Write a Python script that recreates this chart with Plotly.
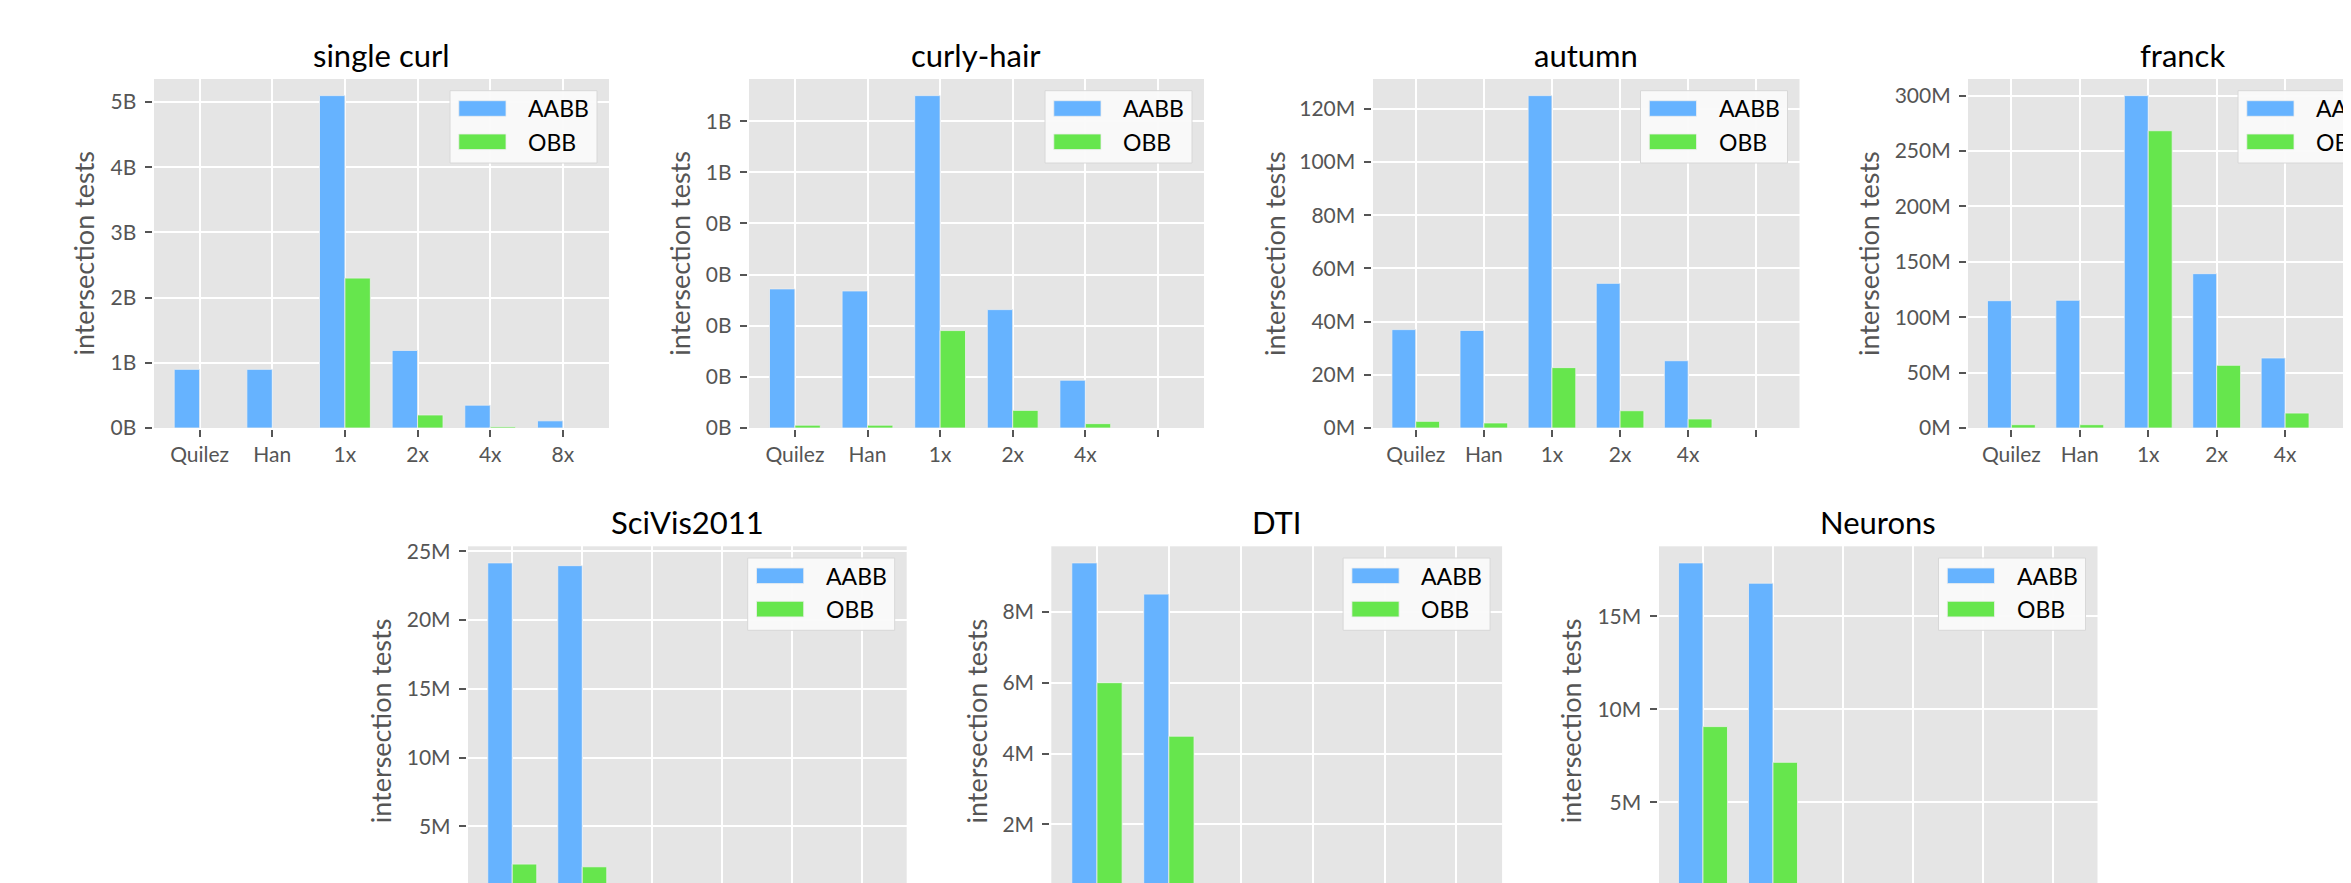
import plotly.graph_objects as go

W, H = 2351, 883

# ---------------- data ----------------
categories = ["Quilez", "Han", "1x", "2x", "4x", "8x"]
series_names = ["AABB", "OBB"]
titles = ["single curl", "curly-hair", "autumn", "franck", "SciVis2011", "DTI", "Neurons"]

single_curl_aabb = [0.90e9, 0.90e9, 5.10e9, 1.19e9, 0.35e9, 0.11e9]
single_curl_obb = [None, None, 2.30e9, 0.20e9, 0.02e9, None]

curly_hair_aabb = [0.544e9, 0.536e9, 1.30e9, 0.463e9, 0.187e9, None]
curly_hair_obb = [0.011e9, 0.011e9, 0.381e9, 0.069e9, 0.017e9, None]

autumn_aabb = [37.0e6, 36.7e6, 125.0e6, 54.4e6, 25.3e6, None]
autumn_obb = [2.5e6, 1.9e6, 22.7e6, 6.5e6, 3.4e6, None]

franck_aabb = [114.9e6, 115.3e6, 300.0e6, 139.3e6, 63.2e6, None]
franck_obb = [3.0e6, 3.0e6, 268.3e6, 56.6e6, 13.5e6, None]

scivis_aabb = [24.15e6, 23.95e6, None, None, None, None]
scivis_obb = [2.27e6, 2.07e6, None, None, None, None]

dti_aabb = [9.38e6, 8.50e6, None, None, None, None]
dti_obb = [6.00e6, 4.49e6, None, None, None, None]

neurons_aabb = [17.87e6, 16.78e6, None, None, None, None]
neurons_obb = [9.07e6, 7.15e6, None, None, None, None]

# tick labels
xlabels_six = ["Quilez", "Han", "1x", "2x", "4x", "8x"]
xlabels_five = ["Quilez", "Han", "1x", "2x", "4x", ""]

single_curl_yticks = [0, 1e9, 2e9, 3e9, 4e9, 5e9]
single_curl_ylabels = ["0B", "1B", "2B", "3B", "4B", "5B"]
curly_hair_yticks = [0, 0.2e9, 0.4e9, 0.6e9, 0.8e9, 1.0e9, 1.2e9]
curly_hair_ylabels = ["0B", "0B", "0B", "0B", "0B", "1B", "1B"]
autumn_yticks = [0, 20e6, 40e6, 60e6, 80e6, 100e6, 120e6]
autumn_ylabels = ["0M", "20M", "40M", "60M", "80M", "100M", "120M"]
franck_yticks = [0, 50e6, 100e6, 150e6, 200e6, 250e6, 300e6]
franck_ylabels = ["0M", "50M", "100M", "150M", "200M", "250M", "300M"]
scivis_yticks = [0, 5e6, 10e6, 15e6, 20e6, 25e6]
scivis_ylabels = ["0M", "5M", "10M", "15M", "20M", "25M"]
dti_yticks = [0, 2e6, 4e6, 6e6, 8e6]
dti_ylabels = ["0M", "2M", "4M", "6M", "8M"]
neurons_yticks = [0, 5e6, 10e6, 15e6]
neurons_ylabels = ["0M", "5M", "10M", "15M"]

panels_data = [
    (single_curl_aabb, single_curl_obb, xlabels_six, single_curl_yticks, single_curl_ylabels),
    (curly_hair_aabb, curly_hair_obb, xlabels_five, curly_hair_yticks, curly_hair_ylabels),
    (autumn_aabb, autumn_obb, xlabels_five, autumn_yticks, autumn_ylabels),
    (franck_aabb, franck_obb, xlabels_five, franck_yticks, franck_ylabels),
    (scivis_aabb, scivis_obb, xlabels_six, scivis_yticks, scivis_ylabels),
    (dti_aabb, dti_obb, xlabels_six, dti_yticks, dti_ylabels),
    (neurons_aabb, neurons_obb, xlabels_six, neurons_yticks, neurons_ylabels),
]

# ---------------- layout (pixel boxes: left, right, top, zero-line) ----------------
boxes = [
    (145.5, 601.0, 71.0, 420.0),
    (740.8, 1196.0, 71.0, 420.0),
    (1364.5, 1791.5, 71.0, 420.0),
    (1959.9, 2389.0, 71.0, 420.0),
    (459.8, 898.7, 538.3, 887.3),
    (1043.3, 1494.1, 538.3, 887.3),
    (1650.5, 2089.5, 538.3, 887.3),
]
ylabel_offsets = [70.4, 69.6, 98.0, 99.5, 87.3, 74.6, 88.0]

BLUE = "#66B3FF"
GREEN = "#66E64D"
BG = "#E5E5E5"
FONT = "Lato"
TICK_COLOR = "#555555"


def px(x):
    return x / W


def py(y):
    return 1 - y / H


fig = go.Figure()
layout = dict(
    width=W, height=H,
    margin=dict(l=0, r=0, t=0, b=0, autoexpand=False),
    paper_bgcolor="white",
    plot_bgcolor=BG,
    barmode="group", bargap=0.3, bargroupgap=0.0,
    showlegend=False,
    font=dict(family=FONT, color=TICK_COLOR),
)
shapes = []
annotations = []

xs = list(range(len(categories)))
for i, (aabb, obb, xlab, ytv, ytt) in enumerate(panels_data):
    n = "" if i == 0 else str(i + 1)
    l, r, t, z = boxes[i]
    vals = [v for v in aabb + obb if v is not None]
    ytop = 1.05 * max(vals)
    unit = (z - t) / ytop  # px per value
    bottom_px = min(z, H)
    ybot = (z - bottom_px) / unit
    xmin, xmax = -0.635, 5.635
    right_px = min(r, W)
    if r > W:
        xmax = xmin + (xmax - xmin) * (right_px - l) / (r - l)
    cut_bottom = z > H

    for name, vals_s, col in ((series_names[0], aabb, BLUE), (series_names[1], obb, GREEN)):
        fig.add_trace(go.Bar(
            x=xs, y=vals_s, name=name, xaxis="x" + n, yaxis="y" + n,
            marker=dict(color=col, line=dict(color="#EEEEEE", width=0.8)),
            showlegend=False,
        ))

    layout["xaxis" + n] = dict(
        domain=[px(l), px(right_px)], anchor="y" + n, range=[xmin, xmax],
        tickmode="array", tickvals=xs, ticktext=xlab,
        showgrid=True, gridcolor="white", gridwidth=2,
        ticks="" if cut_bottom else "outside", ticklen=7, tickwidth=2, tickcolor=TICK_COLOR,
        showticklabels=not cut_bottom,
        showline=True, linecolor="white", linewidth=2,
        zeroline=False, tickfont=dict(size=21, color=TICK_COLOR, family=FONT),
        fixedrange=True,
    )
    layout["yaxis" + n] = dict(
        domain=[py(bottom_px), py(t)], anchor="x" + n, range=[ybot, ytop],
        tickmode="array", tickvals=ytv, ticktext=ytt,
        showgrid=True, gridcolor="white", gridwidth=2,
        ticks="outside", ticklen=7, tickwidth=2, tickcolor=TICK_COLOR,
        showline=True, linecolor="white", linewidth=2,
        zeroline=False, tickfont=dict(size=21, color=TICK_COLOR, family=FONT),
        ticklabelstandoff=4, fixedrange=True,
    )

    annotations.append(dict(
        x=px((l + r) / 2), y=py(t - 24.5), xref="paper", yref="paper",
        text=titles[i], showarrow=False, xanchor="center", yanchor="middle",
        font=dict(size=31, color="black", family=FONT),
    ))
    annotations.append(dict(
        x=px(l - ylabel_offsets[i]), y=py(t + 174.5),
        xref="paper", yref="paper", text="intersection tests", textangle=-90,
        showarrow=False, xanchor="center", yanchor="middle",
        font=dict(size=27, color=TICK_COLOR, family=FONT),
    ))
    bl, br = r - 159.0, r - 12.0
    bt, bb = t + 11.7, t + 84.0
    shapes.append(dict(
        type="rect", xref="paper", yref="paper",
        x0=px(bl), x1=px(br), y0=py(bb), y1=py(bt),
        fillcolor="rgba(250,250,250,0.95)", line=dict(color="#D8D8D8", width=1), layer="above",
    ))
    for k, (name, col) in enumerate(((series_names[0], BLUE), (series_names[1], GREEN))):
        cy = t + 29.5 + k * 33.3
        shapes.append(dict(
            type="rect", xref="paper", yref="paper",
            x0=px(bl + 8.8), x1=px(bl + 56.0), y0=py(cy + 7.8), y1=py(cy - 7.8),
            fillcolor=col, line=dict(color="#EEEEEE", width=0.8), layer="above",
        ))
        annotations.append(dict(
            x=px(bl + 76.0), y=py(cy), xref="paper", yref="paper", text=name,
            showarrow=False, xanchor="left", yanchor="middle",
            font=dict(size=23, color="black", family=FONT),
        ))

layout["shapes"] = shapes
layout["annotations"] = annotations
fig.update_layout(**layout)
fig.write_html("out.html")
